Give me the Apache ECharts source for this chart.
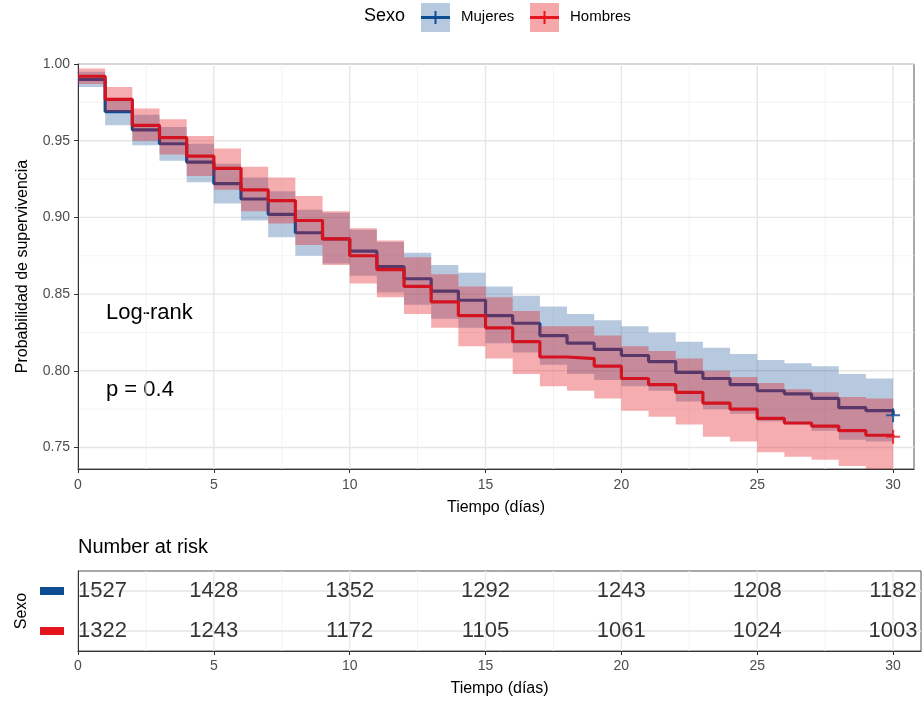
<!DOCTYPE html>
<html>
<head>
<meta charset="utf-8">
<title>Supervivencia por sexo</title>
<script src="https://cdn.jsdelivr.net/npm/echarts@6/dist/echarts.min.js"></script>
<style>
  html, body { margin: 0; padding: 0; background: #fff; }
  #chart { width: 924px; height: 702px; }
</style>
</head>
<body>
<div id="chart"></div>
<script>
// dias: inicio de cada escalon (el ultimo punto marca el final en t = 30)
var dias = [0, 1, 2, 3, 4, 5, 6, 7, 8, 9, 10, 11, 12, 13, 14, 15, 16, 17, 18, 19, 20, 21, 22, 23, 24, 25, 26, 27, 28, 29, 30];

var mujeres   = [0.990, 0.969, 0.957, 0.948, 0.936, 0.922, 0.912, 0.902, 0.890, 0.886, 0.878, 0.868, 0.860, 0.852, 0.846, 0.836, 0.831, 0.823, 0.818, 0.814, 0.810, 0.806, 0.799, 0.795, 0.791, 0.787, 0.785, 0.782, 0.776, 0.774, 0.771];
var mujeresLo = [0.985, 0.960, 0.947, 0.937, 0.923, 0.909, 0.898, 0.887, 0.875, 0.870, 0.862, 0.851, 0.843, 0.834, 0.828, 0.818, 0.812, 0.804, 0.798, 0.794, 0.790, 0.787, 0.780, 0.775, 0.772, 0.767, 0.765, 0.761, 0.755, 0.754, 0.754];
var mujeresHi = [0.995, 0.978, 0.967, 0.959, 0.948, 0.935, 0.926, 0.917, 0.905, 0.903, 0.892, 0.884, 0.877, 0.869, 0.864, 0.855, 0.849, 0.842, 0.837, 0.833, 0.829, 0.825, 0.819, 0.815, 0.811, 0.807, 0.805, 0.803, 0.798, 0.795, 0.795];

var hombres   = [0.992, 0.977, 0.960, 0.952, 0.940, 0.932, 0.918, 0.911, 0.898, 0.886, 0.875, 0.866, 0.855, 0.845, 0.836, 0.828, 0.819, 0.809, 0.808, 0.803, 0.795, 0.791, 0.786, 0.779, 0.775, 0.769, 0.766, 0.764, 0.761, 0.758, 0.757];
var hombresLo = [0.987, 0.969, 0.950, 0.941, 0.927, 0.918, 0.904, 0.896, 0.882, 0.869, 0.857, 0.848, 0.837, 0.828, 0.816, 0.808, 0.798, 0.790, 0.787, 0.782, 0.774, 0.770, 0.765, 0.757, 0.754, 0.747, 0.744, 0.742, 0.738, 0.735, 0.735];
var hombresHi = [0.997, 0.985, 0.971, 0.964, 0.953, 0.945, 0.933, 0.926, 0.914, 0.904, 0.893, 0.885, 0.874, 0.863, 0.855, 0.848, 0.839, 0.829, 0.829, 0.823, 0.816, 0.813, 0.808, 0.800, 0.796, 0.792, 0.788, 0.786, 0.783, 0.782, 0.782];

// numero en riesgo
var riskDias = [0, 5, 10, 15, 20, 25, 30];
var riskMujeres = [1527, 1428, 1352, 1292, 1243, 1208, 1182];
var riskHombres = [1322, 1243, 1172, 1105, 1061, 1024, 1003];
var grupos = ['Mujeres', 'Hombres'];

// marcas de ejes
var xMayor = [0, 5, 10, 15, 20, 25, 30];
var xMenor = [2.5, 7.5, 12.5, 17.5, 22.5, 27.5];
var yMayor = [0.75, 0.80, 0.85, 0.90, 0.95, 1.00];
var yMenor = [0.775, 0.825, 0.875, 0.925, 0.975];

var AZUL = '#0E4C92',
  ROJO = '#E4151C',
  FONT = '"Liberation Sans", Arial, sans-serif';

function pares(xs, ys) {
  return xs.map(function (x, i) { return [x, ys[i]]; });
}

function gridLines(gridIdx, dir, data, color, width) {
  return {
    type: 'custom',
    xAxisIndex: gridIdx,
    yAxisIndex: gridIdx,
    silent: true,
    z: 0,
    data: data,
    renderItem: function (params, api) {
      var cs = params.coordSys,
        p = api.coord([api.value(0), api.value(1)]),
        shape = dir === 'h'
          ? { x1: cs.x, y1: p[1], x2: cs.x + cs.width, y2: p[1] }
          : { x1: p[0], y1: cs.y, x2: p[0], y2: cs.y + cs.height };
      return { type: 'line', shape: shape, style: { stroke: color, lineWidth: width } };
    }
  };
}

function stepLine(name, ys, color, z) {
  return {
    name: name,
    type: 'line',
    step: 'end',
    symbol: 'none',
    data: pares(dias, ys),
    lineStyle: { color: color, width: 3.2 },
    z: z
  };
}

// banda de confianza escalonada: un poligono entre lo y hi
function band(lo, hi, fill, z) {
  return {
    type: 'custom',
    silent: true,
    clip: true,
    z: z,
    data: [[dias[0], hi[0]]],
    renderItem: function (params, api) {
      var top = [], bottom = [], i;
      for (i = 0; i < dias.length - 1; i++) {
        top.push(api.coord([dias[i], hi[i]]));
        top.push(api.coord([dias[i + 1], hi[i]]));
        bottom.push(api.coord([dias[i], lo[i]]));
        bottom.push(api.coord([dias[i + 1], lo[i]]));
      }
      return {
        type: 'polygon',
        shape: { points: top.concat(bottom.reverse()) },
        style: { fill: fill }
      };
    }
  };
}

var cruz = 'path://M-1,-0.15 L-0.15,-0.15 L-0.15,-1 L0.15,-1 L0.15,-0.15 L1,-0.15 L1,0.15 L0.15,0.15 L0.15,1 L-0.15,1 L-0.15,0.15 L-1,0.15 Z';

function riskRow(vals, row) {
  return {
    type: 'scatter',
    xAxisIndex: 1,
    yAxisIndex: 1,
    symbolSize: 1,
    itemStyle: { color: 'rgba(0,0,0,0)' },
    data: riskDias.map(function (d, i) {
      var item = { value: [d, row, vals[i]] };
      if (i === 0) item.label = { align: 'left' };
      return item;
    }),
    label: {
      show: true,
      position: 'inside',
      formatter: function (p) { return p.value[2]; },
      fontFamily: FONT,
      fontSize: 22,
      color: '#000'
    },
    z: 3
  };
}

var myChart = echarts.init(document.getElementById('chart'), null, { renderer: 'canvas' });

var series = [
  gridLines(0, 'h', yMenor.map(function (v) { return [0, v]; }), '#f3f3f3', 1),
  gridLines(0, 'v', xMenor.map(function (v) { return [v, 0.8]; }), '#f3f3f3', 1),
  gridLines(0, 'h', yMayor.map(function (v) { return [0, v]; }), '#e6e6e6', 1.4),
  gridLines(0, 'v', xMayor.map(function (v) { return [v, 0.8]; }), '#e6e6e6', 1.4),
  band(mujeresLo, mujeresHi, 'rgba(14,76,146,0.3)', 2),
  stepLine('Mujeres', mujeres, AZUL, 3),
  band(hombresLo, hombresHi, 'rgba(228,21,28,0.35)', 4),
  stepLine('Hombres', hombres, '#D31420', 5),
  {
    type: 'scatter',
    symbol: cruz,
    symbolSize: 14,
    data: [
      { value: [dias[dias.length - 1], mujeres[mujeres.length - 1]], itemStyle: { color: AZUL } },
      { value: [dias[dias.length - 1], hombres[hombres.length - 1]], itemStyle: { color: ROJO } }
    ],
    z: 6
  },
  gridLines(1, 'v', xMenor.map(function (v) { return [v, 0]; }), '#f3f3f3', 1),
  gridLines(1, 'v', xMayor.map(function (v) { return [v, 0]; }), '#e9e9e9', 1.4),
  gridLines(1, 'h', [[0, 0], [0, 1]], '#e6e6e6', 1.6),
  riskRow(riskMujeres, 0),
  riskRow(riskHombres, 1)
];

var option = {
  animation: false,
  textStyle: { fontFamily: FONT },
  grid: [
    { left: 78, top: 64, right: 10, bottom: 233, show: true, borderColor: '#555', borderWidth: 1 },
    { left: 78, top: 571, right: 3, bottom: 51, show: true, borderColor: '#555', borderWidth: 1 }
  ],
  xAxis: [{
    type: 'value',
    gridIndex: 0,
    min: 0,
    max: 30.77,
    name: 'Tiempo (días)',
    nameLocation: 'middle',
    nameGap: 31,
    nameTextStyle: { fontSize: 16, color: '#000', fontFamily: FONT },
    axisLine: { show: true, lineStyle: { color: '#333' } },
    axisTick: { show: true, length: 4, customValues: xMayor, lineStyle: { color: '#333' } },
    axisLabel: { customValues: xMayor, fontSize: 14, color: '#4d4d4d', margin: 9, fontFamily: FONT },
    splitLine: { show: false }
  }, {
    type: 'value',
    gridIndex: 1,
    min: 0,
    max: 31.03,
    name: 'Tiempo (días)',
    nameLocation: 'middle',
    nameGap: 30,
    nameTextStyle: { fontSize: 16, color: '#000', fontFamily: FONT },
    axisLine: { show: true, lineStyle: { color: '#333' } },
    axisTick: { show: true, length: 4, customValues: xMayor, lineStyle: { color: '#333' } },
    axisLabel: { customValues: xMayor, fontSize: 14, color: '#4d4d4d', margin: 8, fontFamily: FONT },
    splitLine: { show: false }
  }],
  yAxis: [{
    type: 'value',
    gridIndex: 0,
    min: 0.736,
    max: 1.0,
    name: 'Probabilidad de supervivencia',
    nameLocation: 'middle',
    nameGap: 47,
    nameRotate: 90,
    nameTextStyle: { fontSize: 16, color: '#000', fontFamily: FONT },
    axisLine: { show: true, lineStyle: { color: '#333' } },
    axisTick: { show: true, length: 4, customValues: yMayor, lineStyle: { color: '#333' } },
    axisLabel: {
      customValues: yMayor,
      formatter: function (v) { return v.toFixed(2); },
      fontSize: 14,
      color: '#4d4d4d',
      margin: 8,
      fontFamily: FONT
    },
    splitLine: { show: false }
  }, {
    type: 'category',
    gridIndex: 1,
    inverse: true,
    data: grupos,
    name: 'Sexo',
    nameLocation: 'middle',
    nameGap: 47,
    nameRotate: 90,
    nameTextStyle: { fontSize: 16, color: '#000', fontFamily: FONT },
    axisLine: { show: true, lineStyle: { color: '#333' } },
    axisTick: { show: false },
    axisLabel: {
      margin: 14,
      formatter: function (v) { return v === 'Mujeres' ? '{m|}' : '{h|}'; },
      rich: {
        m: { width: 24, height: 8, backgroundColor: AZUL },
        h: { width: 24, height: 8, backgroundColor: ROJO }
      }
    },
    splitLine: { show: false }
  }],
  graphic: [
    { type: 'text', left: 106, top: 302, style: { text: 'Log-rank', fill: '#000', font: '22px ' + FONT } },
    { type: 'text', left: 106, top: 379, style: { text: 'p = 0.4', fill: '#000', font: '22px ' + FONT } },
    { type: 'text', left: 78, top: 537, style: { text: 'Number at risk', fill: '#000', font: '20px ' + FONT } },
    { type: 'text', left: 364, top: 7, style: { text: 'Sexo', fill: '#000', font: '18px ' + FONT } },
    { type: 'rect', shape: { x: 421, y: 3, width: 29, height: 29 }, style: { fill: '#b7c9de' } },
    { type: 'line', shape: { x1: 421, y1: 17.5, x2: 450, y2: 17.5 }, style: { stroke: AZUL, lineWidth: 3 } },
    { type: 'line', shape: { x1: 435.5, y1: 11, x2: 435.5, y2: 24 }, style: { stroke: AZUL, lineWidth: 2 } },
    { type: 'text', left: 461, top: 9, style: { text: 'Mujeres', fill: '#000', font: '15px ' + FONT } },
    { type: 'rect', shape: { x: 530, y: 3, width: 29, height: 29 }, style: { fill: '#f6a7a9' } },
    { type: 'line', shape: { x1: 530, y1: 17.5, x2: 559, y2: 17.5 }, style: { stroke: ROJO, lineWidth: 3 } },
    { type: 'line', shape: { x1: 544.5, y1: 11, x2: 544.5, y2: 24 }, style: { stroke: ROJO, lineWidth: 2 } },
    { type: 'text', left: 570, top: 9, style: { text: 'Hombres', fill: '#000', font: '15px ' + FONT } }
  ],
  series: series
};

myChart.setOption(option, true);
window.addEventListener('resize', function () {
  myChart.resize();
});
</script>
</body>
</html>
